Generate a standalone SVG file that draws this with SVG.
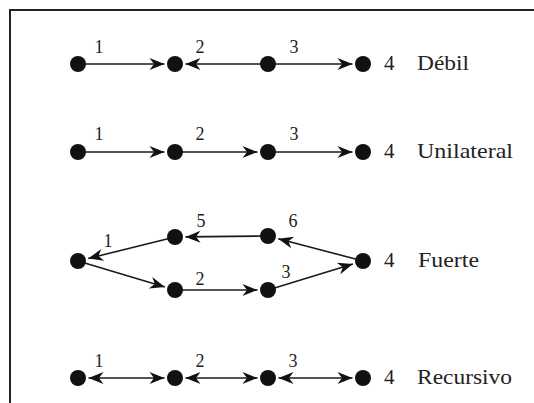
<svg xmlns="http://www.w3.org/2000/svg" width="534" height="403" viewBox="0 0 534 403" font-family="Liberation Serif, DejaVu Serif, Times New Roman, serif">
<style>
.n{fill:#111}
.e{stroke:#1a1a1a;stroke-width:1.6;fill:none}
.a{marker-end:url(#ah)}
.b{marker-start:url(#ahs);marker-end:url(#ah)}
.l{font-size:18px;fill:#222;text-anchor:middle}
.t{font-size:21px;fill:#222}
</style>
<defs>
<marker id="ah" markerUnits="userSpaceOnUse" viewBox="-16 -7 17 14" refX="0" refY="0" markerWidth="17" markerHeight="14" orient="auto">
<path d="M0,0 L-15,-6 L-10.5,0 L-15,6 Z" fill="#111"/>
</marker>
<marker id="ahs" markerUnits="userSpaceOnUse" viewBox="-1 -7 17 14" refX="0" refY="0" markerWidth="17" markerHeight="14" orient="auto">
<path d="M0,0 L15,-6 L10.5,0 L15,6 Z" fill="#111"/>
</marker>
</defs>
<rect width="534" height="403" fill="#fff"/>
<path d="M10,403 V10 H534" stroke="#222" stroke-width="2" fill="none"/>

<g id="connectors">
<line class="e a" x1="78" y1="64" x2="164.5" y2="64"/>
<line class="e a" x1="268" y1="64" x2="185.5" y2="64"/>
<line class="e a" x1="268" y1="64" x2="352.5" y2="64"/>

<line class="e a" x1="78" y1="152" x2="164.5" y2="152"/>
<line class="e a" x1="175" y1="152" x2="257.5" y2="152"/>
<line class="e a" x1="268" y1="152" x2="352.5" y2="152"/>

<line class="e a" x1="78" y1="261" x2="164.9" y2="287"/>
<line class="e a" x1="175" y1="290" x2="257.5" y2="290"/>
<line class="e a" x1="268" y1="290" x2="352.9" y2="264.1"/>
<line class="e a" x1="363" y1="261" x2="278.2" y2="238.7"/>
<line class="e a" x1="268" y1="236" x2="185.5" y2="236.9"/>
<line class="e a" x1="175" y1="237" x2="88.2" y2="258.5"/>

<line class="e b" x1="88.5" y1="378" x2="164.5" y2="378"/>
<line class="e b" x1="185.5" y1="378" x2="257.5" y2="378"/>
<line class="e b" x1="278.5" y1="378" x2="352.5" y2="378"/>
</g>

<g id="debil">
<g id="d1"><circle class="n" cx="78" cy="64" r="8"/><text class="l" x="99" y="53">1</text></g>
<g id="d2"><circle class="n" cx="175" cy="64" r="8"/><text class="l" x="200" y="53">2</text></g>
<g id="d3"><circle class="n" cx="268" cy="64" r="8"/><text class="l" x="294" y="53">3</text></g>
<g id="d4"><circle class="n" cx="363" cy="64" r="8"/><text class="t" x="384" y="70">4</text></g>
<text class="t" x="417" y="70" textLength="52" lengthAdjust="spacingAndGlyphs">Débil</text>
</g>

<g id="unilateral">
<g id="u1"><circle class="n" cx="78" cy="152" r="8"/><text class="l" x="99" y="140">1</text></g>
<g id="u2"><circle class="n" cx="175" cy="152" r="8"/><text class="l" x="200" y="140">2</text></g>
<g id="u3"><circle class="n" cx="268" cy="152" r="8"/><text class="l" x="294" y="140">3</text></g>
<g id="u4"><circle class="n" cx="363" cy="152" r="8"/><text class="t" x="384" y="157.5">4</text></g>
<text class="t" x="417" y="157.5" textLength="96" lengthAdjust="spacingAndGlyphs">Unilateral</text>
</g>

<g id="fuerte">
<g id="f1"><circle class="n" cx="78" cy="261" r="8"/><text class="l" x="108" y="247">1</text></g>
<g id="f2"><circle class="n" cx="175" cy="290" r="8"/><text class="l" x="200" y="285">2</text></g>
<g id="f3"><circle class="n" cx="268" cy="290" r="8"/><text class="l" x="286" y="278">3</text></g>
<g id="f4"><circle class="n" cx="363" cy="261" r="8"/><text class="t" x="384" y="267">4</text></g>
<g id="f5"><circle class="n" cx="175" cy="237" r="8"/><text class="l" x="201" y="227">5</text></g>
<g id="f6"><circle class="n" cx="268" cy="236" r="8"/><text class="l" x="293" y="227">6</text></g>
<text class="t" x="418" y="267" textLength="61" lengthAdjust="spacingAndGlyphs">Fuerte</text>
</g>

<g id="recursivo">
<g id="r1"><circle class="n" cx="78" cy="378" r="8"/><text class="l" x="99" y="367">1</text></g>
<g id="r2"><circle class="n" cx="175" cy="378" r="8"/><text class="l" x="200" y="367">2</text></g>
<g id="r3"><circle class="n" cx="268" cy="378" r="8"/><text class="l" x="293" y="367">3</text></g>
<g id="r4"><circle class="n" cx="363" cy="378" r="8"/><text class="t" x="384" y="384">4</text></g>
<text class="t" x="417" y="384" textLength="95" lengthAdjust="spacingAndGlyphs">Recursivo</text>
</g>
</svg>
